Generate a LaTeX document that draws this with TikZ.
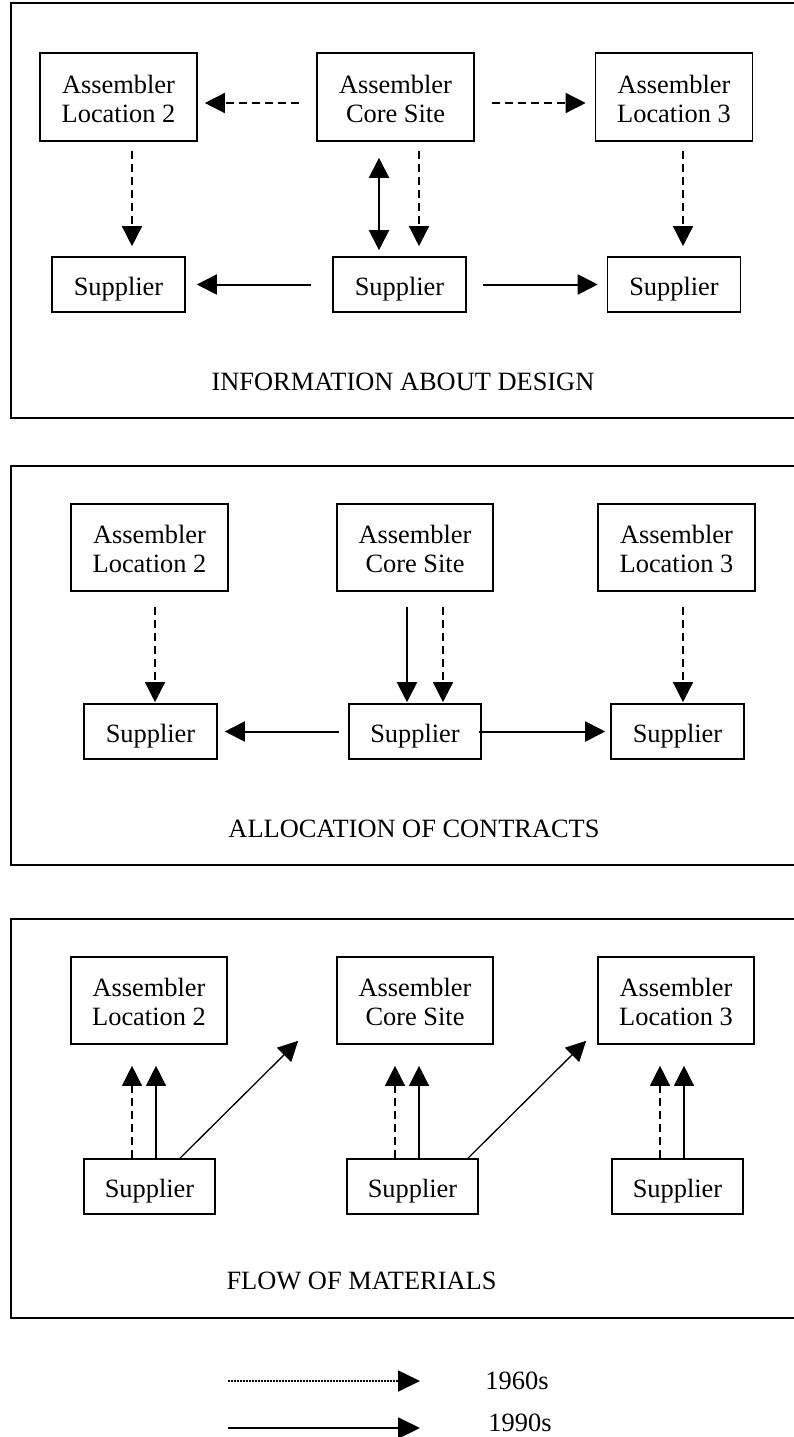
\documentclass[tikz,border=0pt]{standalone}
\usepackage{fontspec}
\setmainfont{Liberation Serif}
\usetikzlibrary{arrows.meta,calc}
\newcommand\twoline[2]{\raisebox{-5pt}[\height][\depth]{\begin{tabular}{@{}c@{}}#1\\#2\end{tabular}}}
\newcommand\oneline[1]{\raisebox{-5pt}[\height][\depth]{#1}}
\begin{document}
\begin{tikzpicture}[x=1pt,y=-1pt,
  every node/.style={font=\fontsize{26.4}{29}\selectfont},
  frame/.style={line width=1.6pt},
  abox/.style={draw,line width=1.6pt,minimum width=157pt,minimum height=88pt,inner sep=0pt},
  sbox/.style={draw,line width=1.6pt,minimum width=133pt,minimum height=55pt,inner sep=0pt},
  lbl/.style={inner sep=0pt,anchor=base},
  arr/.style={-{Triangle[length=20pt,width=20pt]}},
  arrboth/.style={{Triangle[length=20pt,width=20pt]}-{Triangle[length=20pt,width=20pt]}},
  dsh/.style={line width=1.4pt,dash pattern=on 8pt off 5pt},
  sol/.style={line width=2pt},
  thin/.style={line width=1.3pt},
  dotline/.style={line width=1.8pt,dash pattern=on 1.5pt off 1.5pt}
]
\useasboundingbox (0,0) rectangle (794,1437);

% ---------- Panel 1 ----------
\draw[frame] (794,3) -- (11,3) -- (11,418) -- (794,418);
\node[abox] (L2a) at (118.5,97) {\twoline{Assembler}{Location 2}};
\node[abox] (Ca)  at (395.5,97) {\twoline{Assembler}{Core Site}};
\node[abox] (L3a) at (674,97)   {\twoline{Assembler}{Location 3}};
\node[sbox] (S1a) at (118.5,284.5) {\oneline{Supplier}};
\node[sbox] (S2a) at (399.5,284.5) {\oneline{Supplier}};
\node[sbox] (S3a) at (674,284.5)   {\oneline{Supplier}};
\node[lbl] (T1) at (403,390) {INFORMATION ABOUT DESIGN};

\draw[dsh,arr] ($(Ca.west)+(-17,6)$) -- ($(L2a.east)+(7,6)$);
\draw[dsh,arr] ($(Ca.east)+(17,6)$) -- ($(L3a.west)+(-9,6)$);
\draw[dsh,arr] ($(L2a.south)+(13.5,9)$) -- ($(S1a.north)+(13.5,-10)$);
\draw[sol,arrboth] ($(Ca.south)+(-16.5,16)$) -- ($(S2a.north)+(-20.5,-6)$);
\draw[dsh,arr] ($(Ca.south)+(23.5,9)$) -- ($(S2a.north)+(19.5,-10)$);
\draw[dsh,arr] ($(L3a.south)+(9,9)$) -- ($(S3a.north)+(9,-10)$);
\draw[sol,arr] ($(S2a.west)+(-21,0)$) -- ($(S1a.east)+(11,0)$);
\draw[sol,arr] ($(S2a.east)+(16,0)$) -- ($(S3a.west)+(-9,0)$);

% ---------- Panel 2 ----------
\draw[frame] (794,466) -- (11,466) -- (11,865) -- (794,865);
\node[abox,minimum height=87pt] (L2b) at (149.5,547.5) {\twoline{Assembler}{Location 2}};
\node[abox,minimum height=87pt,minimum width=156pt] (Cb) at (415,547.5) {\twoline{Assembler}{Core Site}};
\node[abox,minimum height=87pt] (L3b) at (676.5,547.5) {\twoline{Assembler}{Location 3}};
\node[sbox] (S1b) at (150.5,731.5) {\oneline{Supplier}};
\node[sbox,minimum width=132pt] (S2b) at (415,731.5) {\oneline{Supplier}};
\node[sbox] (S3b) at (677.5,731.5) {\oneline{Supplier}};
\node[lbl] (T2) at (414,837) {ALLOCATION OF CONTRACTS};

\draw[dsh,arr] ($(L2b.south)+(5.5,15)$) -- ($(S1b.north)+(4.5,-1)$);
\draw[sol,arr] ($(Cb.south)+(-8,15)$) -- ($(S2b.north)+(-8,-1)$);
\draw[dsh,arr] ($(Cb.south)+(28,15)$) -- ($(S2b.north)+(28,-1)$);
\draw[dsh,arr] ($(L3b.south)+(6.5,15)$) -- ($(S3b.north)+(5.5,-1)$);
\draw[sol,arr] ($(S2b.west)+(-9,0)$) -- ($(S1b.east)+(7,0)$);
\draw[sol,arr] ($(S2b.east)+(-3,0)$) -- ($(S3b.west)+(-5,0)$);

% ---------- Panel 3 ----------
\draw[frame] (794,919) -- (11,919) -- (11,1318) -- (794,1318);
\node[abox,minimum height=87pt,minimum width=156pt] (L2c) at (149,1000.5) {\twoline{Assembler}{Location 2}};
\node[abox,minimum height=87pt,minimum width=156pt] (Cc)  at (415,1000.5) {\twoline{Assembler}{Core Site}};
\node[abox,minimum height=87pt,minimum width=156pt] (L3c) at (676,1000.5) {\twoline{Assembler}{Location 3}};
\node[sbox,minimum width=131pt] (S1c) at (149.5,1186.5) {\oneline{Supplier}};
\node[sbox,minimum width=131pt] (S2c) at (412.5,1186.5) {\oneline{Supplier}};
\node[sbox,minimum width=131pt] (S3c) at (677.5,1186.5) {\oneline{Supplier}};
\node[lbl] (T3) at (361.5,1289) {FLOW OF MATERIALS};

\draw[thin,dash pattern=on 8pt off 5pt,arr] ($(S1c.north)+(-17.5,0)$) -- ($(L2c.south)+(-17,21)$);
\draw[thin,arr] ($(S1c.north)+(6.5,0)$) -- ($(L2c.south)+(7,21)$);
\draw[thin,arr] ($(S1c.north)+(30.5,0)$) -- ($(Cc.south west)+(-38,-4)$);
\draw[thin,dash pattern=on 8pt off 5pt,arr] ($(S2c.north)+(-17.5,0)$) -- ($(Cc.south)+(-20,21)$);
\draw[thin,arr] ($(S2c.north)+(6.5,0)$) -- ($(Cc.south)+(4,21)$);
\draw[thin,arr] ($(S2c.north)+(55.5,0)$) -- ($(L3c.south west)+(-11,-4)$);
\draw[thin,dash pattern=on 8pt off 5pt,arr] ($(S3c.north)+(-17.5,0)$) -- ($(L3c.south)+(-16,21)$);
\draw[thin,arr] ($(S3c.north)+(6.5,0)$) -- ($(L3c.south)+(8,21)$);

% ---------- Legend ----------
\coordinate (lg1s) at (228,1381);
\coordinate (lg1e) at (420,1381);
\coordinate (lg2s) at (228,1428);
\coordinate (lg2e) at (420,1428);
\draw[dotline,-{Triangle[length=22pt,width=21pt]}] (lg1s) -- (lg1e);
\draw[sol,-{Triangle[length=22pt,width=21pt]}] (lg2s) -- (lg2e);
\node[lbl] (t1960) at (517,1389) {1960s};
\node[lbl] (t1990) at (520,1431) {1990s};
\end{tikzpicture}
\end{document}
